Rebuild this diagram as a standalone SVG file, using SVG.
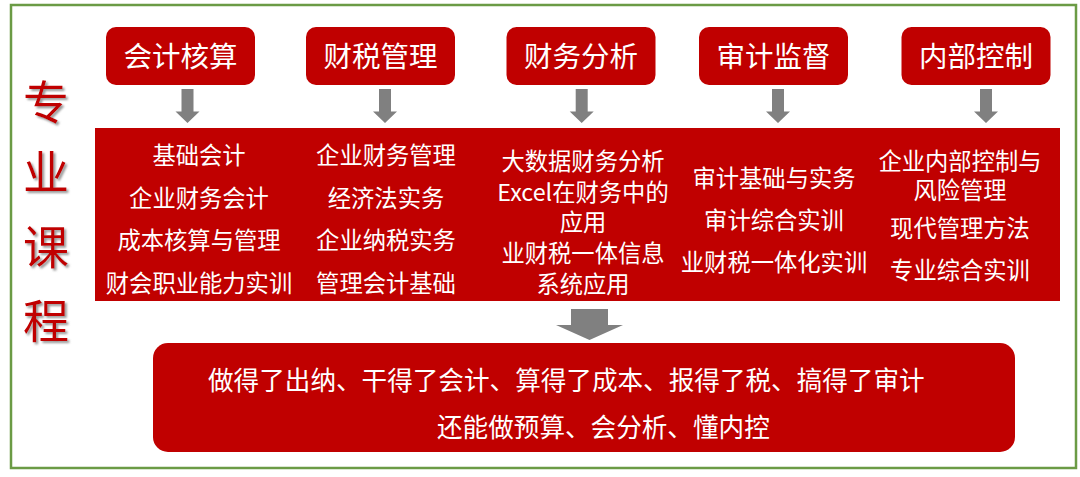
<svg xmlns="http://www.w3.org/2000/svg" width="1080" height="477" viewBox="0 0 1080 477">
<defs>
<style>
.frame{fill:#fff;stroke:#6B9B45;stroke-width:2.5}
.hbox{fill:#C00000}
.htxt{font-family:"Noto Sans CJK SC","Noto Sans CJK JP",sans-serif;font-size:28.5px;fill:#fff;text-anchor:middle}
.ctxt{font-family:"Noto Sans CJK SC","Noto Sans CJK JP",sans-serif;font-size:23.3px;fill:#fff;text-anchor:middle}
.btxt{font-family:"Noto Sans CJK SC","Noto Sans CJK JP",sans-serif;font-size:25.6px;fill:#fff}
.side{font-family:"Noto Sans CJK SC","Noto Sans CJK JP",sans-serif;font-size:46px;fill:#C00000;text-anchor:middle}
.arrow{fill:#808080}
</style>
<filter id="sh" x="-20%" y="-20%" width="150%" height="150%">
<feDropShadow dx="2" dy="2" stdDeviation="1.2" flood-color="#7f7f7f" flood-opacity="0.8"/>
</filter>
</defs>
<rect class="frame" x="11" y="5" width="1065" height="463"/>
<g id="side-title" filter="url(#sh)">
<text class="side" x="46" y="119">专</text>
<text class="side" x="46" y="189">业</text>
<text class="side" x="46" y="264">课</text>
<text class="side" x="46" y="338">程</text>
</g>
<g id="node-kuaiji">
<rect class="hbox" x="106" y="27" width="149" height="58" rx="10"/>
<text class="htxt" x="180.5" y="66.5">会计核算</text>
</g>
<g id="node-caishui">
<rect class="hbox" x="306" y="27" width="149" height="58" rx="10"/>
<text class="htxt" x="380.5" y="66.5">财税管理</text>
</g>
<g id="node-caiwu">
<rect class="hbox" x="506.5" y="27" width="149" height="58" rx="10"/>
<text class="htxt" x="581" y="66.5">财务分析</text>
</g>
<g id="node-shenji">
<rect class="hbox" x="699" y="27" width="149" height="58" rx="10"/>
<text class="htxt" x="773.5" y="66.5">审计监督</text>
</g>
<g id="node-neibu">
<rect class="hbox" x="901.5" y="27" width="149" height="58" rx="10"/>
<text class="htxt" x="976" y="66.5">内部控制</text>
</g>
<g id="connectors">
<polygon class="arrow" points="181.5,89 193.5,89 193.5,111.5 199.5,111.5 187.5,123 175.5,111.5 181.5,111.5"/>
<polygon class="arrow" points="379,89 391,89 391,111.5 397,111.5 385,123 373,111.5 379,111.5"/>
<polygon class="arrow" points="575.7,89 587.7,89 587.7,111.5 593.7,111.5 581.7,123 569.7,111.5 575.7,111.5"/>
<polygon class="arrow" points="772,89 784,89 784,111.5 790,111.5 778,123 766,111.5 772,111.5"/>
<polygon class="arrow" points="980,89 992,89 992,111.5 998,111.5 986,123 974,111.5 980,111.5"/>
<polygon class="arrow" points="571,309 608,309 608,325 623,325 589.5,340 556,325 571,325"/>
</g>
<g id="node-courses">
<rect class="hbox" x="95" y="128" width="965" height="173"/>
<text class="ctxt" x="199"><tspan x="199" y="163.5">基础会计</tspan><tspan x="199" y="206.5">企业财务会计</tspan><tspan x="199" y="249">成本核算与管理</tspan><tspan x="199" y="291.5">财会职业能力实训</tspan></text>
<text class="ctxt" x="386"><tspan x="386" y="163.5">企业财务管理</tspan><tspan x="386" y="206.5">经济法实务</tspan><tspan x="386" y="249">企业纳税实务</tspan><tspan x="386" y="291.5">管理会计基础</tspan></text>
<text class="ctxt" x="583"><tspan x="583" y="170">大数据财务分析</tspan><tspan x="583" y="200.7">Excel在财务中的</tspan><tspan x="583" y="231.4">应用</tspan><tspan x="583" y="262.1">业财税一体信息</tspan><tspan x="583" y="292.8">系统应用</tspan></text>
<text class="ctxt" x="774"><tspan x="774" y="186.5">审计基础与实务</tspan><tspan x="774" y="228.5">审计综合实训</tspan><tspan x="774" y="271">业财税一体化实训</tspan></text>
<text class="ctxt" x="960"><tspan x="960" y="170">企业内部控制与</tspan><tspan x="960" y="198.5">风险管理</tspan><tspan x="960" y="236.5">现代管理方法</tspan><tspan x="960" y="278.5">专业综合实训</tspan></text>
</g>
<g id="node-result">
<rect class="hbox" x="153" y="343" width="862" height="109" rx="15"/>
<text class="btxt" x="208" y="390">做得了出纳、干得了会计、算得了成本、报得了税、搞得了审计</text>
<text class="btxt" x="437" y="436.5">还能做预算、会分析、懂内控</text>
</g>
</svg>
